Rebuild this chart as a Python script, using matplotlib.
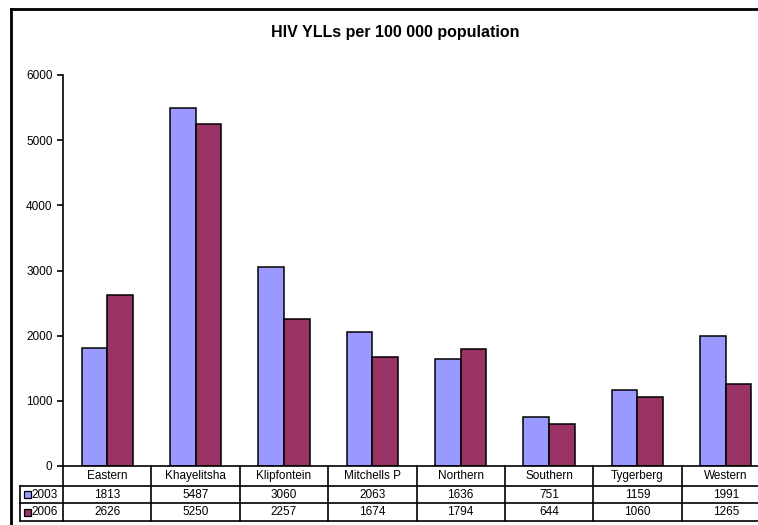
import matplotlib.pyplot as plt
import numpy as np
from matplotlib.lines import Line2D
from matplotlib.patches import Rectangle
from matplotlib import transforms

plt.rcParams['font.family'] = ['Liberation Sans', 'DejaVu Sans']

regions = ["Eastern", "Khayelitsha", "Klipfontein", "Mitchells P",
           "Northern", "Southern", "Tygerberg", "Western"]
years = ["2003", "2006"]
yll_2003 = [1813, 5487, 3060, 2063, 1636, 751, 1159, 1991]
yll_2006 = [2626, 5250, 2257, 1674, 1794, 644, 1060, 1265]
colors = ["#9999FF", "#993366"]

W, H = 758, 525
fig = plt.figure(figsize=(W / 100, H / 100), dpi=100)

def fx(px):
    return px / W

def fy(py):
    return 1 - py / H

# plot area (runs off the right edge like the original)
x0, x1, ytop, ybot = 63, 770, 75, 466
ax = fig.add_axes([fx(x0), fy(ybot), fx(x1 - x0), fy(ytop) - fy(ybot)])

x = np.arange(len(regions))
bw = 0.29
ax.bar(x - bw / 2, yll_2003, bw, color=colors[0], edgecolor='black', linewidth=1.1)
ax.bar(x + bw / 2, yll_2006, bw, color=colors[1], edgecolor='black', linewidth=1.1)

ax.set_xlim(-0.5, len(regions) - 0.5)
ax.set_ylim(0, 6000)
ax.set_yticks(np.arange(0, 6001, 1000))
ax.tick_params(axis='y', labelsize=8.5, length=4, width=1.2, direction='out', pad=3.5)
ax.set_xticks([])
for s in ['top', 'right']:
    ax.spines[s].set_visible(False)
ax.spines['left'].set_linewidth(1.2)
ax.spines['bottom'].set_linewidth(1.2)

# title
fig.text(fx(395), fy(33), "HIV YLLs per 100 000 population", ha='center', va='center',
         fontsize=11.5, fontweight='bold')

# data table below the axis
tr = transforms.blended_transform_factory(ax.transData, fig.transFigure)
rows_y = [466, 486, 503, 521]
lw = 1.2
for yy in rows_y[1:]:
    fig.add_artist(Line2D([fx(x0), 1.0], [fy(yy), fy(yy)], color='black', lw=lw))
for yy in rows_y[1:]:
    fig.add_artist(Line2D([fx(20), fx(x0)], [fy(yy), fy(yy)], color='black', lw=lw))
fig.add_artist(Line2D([fx(20), fx(20)], [fy(486), fy(521)], color='black', lw=lw))
fig.add_artist(Line2D([fx(x0), fx(x0)], [fy(466), fy(521)], color='black', lw=lw))
for i in range(1, len(regions)):
    ax.add_line(Line2D([i - 0.5, i - 0.5], [fy(466), fy(521)], color='black', lw=lw,
                       transform=tr, clip_on=False))

for i, name in enumerate(regions):
    ax.text(i, fy(476), name, transform=tr, ha='center', va='center', fontsize=8.5, clip_on=False)
    ax.text(i, fy(494.5), str(yll_2003[i]), transform=tr, ha='center', va='center',
            fontsize=8.5, clip_on=False)
    ax.text(i, fy(512), str(yll_2006[i]), transform=tr, ha='center', va='center',
            fontsize=8.5, clip_on=False)

for j, (yr, c) in enumerate(zip(years, colors)):
    yc = [494.5, 512][j]
    fig.add_artist(Rectangle((fx(23.5), fy(yc + 3.5)), fx(7), fy(0) - fy(7),
                             facecolor=c, edgecolor='black', lw=0.9))
    fig.text(fx(31.5), fy(yc), yr, ha='left', va='center', fontsize=8.5)

# outer chart border
fig.add_artist(Line2D([fx(10.5), fx(10.5)], [fy(8.5), 0], color='black', lw=2))
fig.add_artist(Line2D([fx(10.5), 1.0], [fy(8.5), fy(8.5)], color='black', lw=2))

fig.savefig("out.png", dpi=100)
